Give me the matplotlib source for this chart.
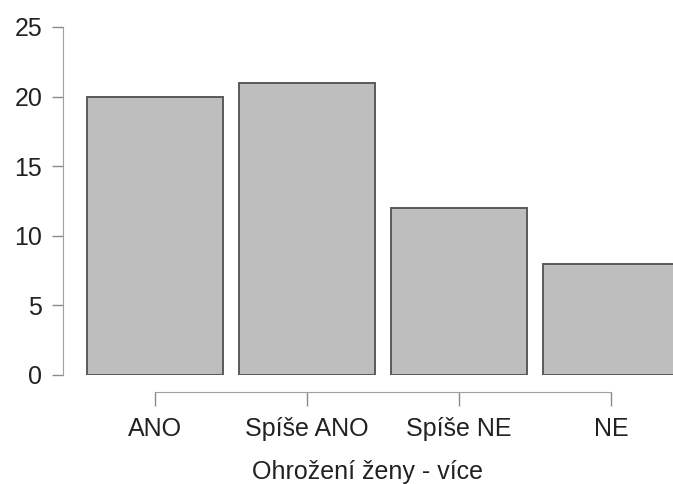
import matplotlib
matplotlib.use("Agg")
import matplotlib.pyplot as plt

categories = ["ANO", "Spíše ANO", "Spíše NE", "NE"]
counts = [20, 21, 12, 8]
y_ticks = [0, 5, 10, 15, 20, 25]

plt.rcParams['font.family'] = ['Liberation Sans', 'DejaVu Sans']

fig = plt.figure(figsize=(6.73, 4.84), dpi=100)
ax = fig.add_axes([63 / 673, 1 - 375 / 484, 1 - 63 / 673, (375 - 27) / 484])

pos = list(range(len(categories)))
ax.bar(pos, counts, width=0.9, color='#bebebe', edgecolor='#5a5a5a', linewidth=1.4)

ax.set_xlim(-0.605, 3.408)
ax.set_ylim(0, 25)

# R style axes: only left and bottom, detached bottom axis
for s in ['top', 'right']:
    ax.spines[s].set_visible(False)
ax.spines['left'].set_bounds(0, 25)
ax.spines['left'].set_color('#a0a0a0')
ax.spines['bottom'].set_position(('outward', 12))
ax.spines['bottom'].set_bounds(0, 3)
ax.spines['bottom'].set_color('#a0a0a0')

ax.set_yticks(y_ticks)
ax.set_xticks(pos)
ax.set_xticklabels(categories)
ax.tick_params(axis='y', length=8, width=1, color='#8a8a8a', pad=7, labelsize=18, labelcolor='#222222')
ax.tick_params(axis='x', length=10, width=1, color='#8a8a8a', pad=8, labelsize=18, labelcolor='#222222')

ax.set_xlabel('Ohrožení ženy - více', fontsize=18, color='#222222', labelpad=14)

fig.savefig('out.png', dpi=100)
